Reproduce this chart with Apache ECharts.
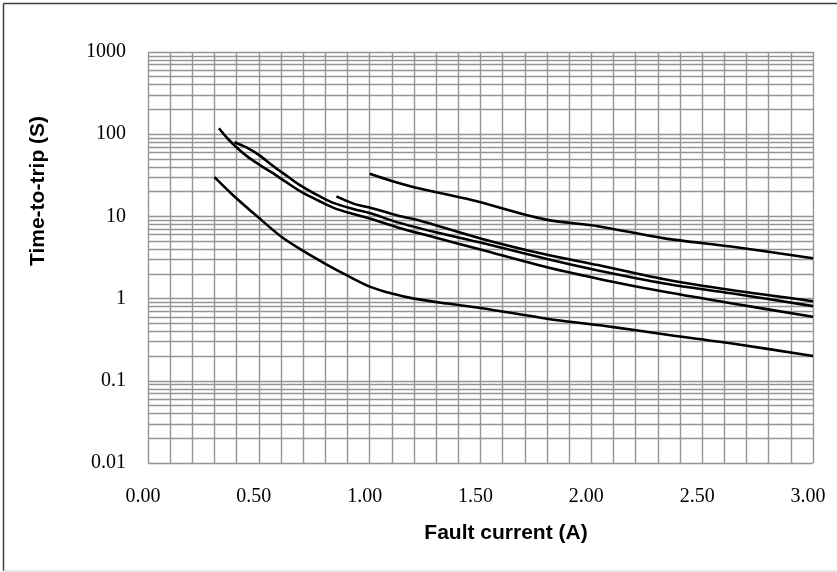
<!DOCTYPE html>
<html>
<head>
<meta charset="utf-8">
<script src="https://cdn.jsdelivr.net/npm/echarts@6/dist/echarts.min.js"></script>
<style>
html,body{margin:0;padding:0;background:#fff;}
#chart{width:837px;height:572px;}
</style>
</head>
<body>
<div id="chart"></div>
<script>
// ---- data ----
const xA = [0.30, 0.38, 0.50, 0.60, 0.70, 0.80, 0.90, 1.00, 1.10, 1.20, 1.35, 1.50, 1.80, 2.10, 2.35, 2.65, 3.00];
const yA = [30, 18.5, 9.6, 5.7, 3.8, 2.65, 1.9, 1.4, 1.15, 1.0, 0.87, 0.77, 0.57, 0.45, 0.36, 0.28, 0.2];

const xB = [0.32, 0.36, 0.41, 0.45, 0.50, 0.56, 0.62, 0.69, 0.77, 0.84, 0.93, 1.00, 1.13, 1.30, 1.50, 1.80, 2.05, 2.33, 2.63, 3.00];
const yB = [118, 88, 65, 53, 43, 34, 26.5, 20, 15.5, 12.6, 10.6, 9.4, 7.3, 5.5, 3.95, 2.4, 1.7, 1.21, 0.88, 0.6];

const xC = [0.39, 0.44, 0.50, 0.56, 0.62, 0.68, 0.75, 0.83, 0.93, 1.00, 1.13, 1.30, 1.50, 1.80, 2.03, 2.33, 2.63, 3.00];
const yC = [80, 70, 56, 42, 32, 24.5, 19, 14.8, 12.2, 11.0, 8.4, 6.4, 4.8, 3.03, 2.2, 1.53, 1.16, 0.81];

const xD = [0.85, 0.93, 1.00, 1.13, 1.22, 1.50, 1.79, 2.03, 2.33, 2.63, 3.00];
const yD = [17.5, 14.2, 12.8, 10.2, 9.0, 5.4, 3.46, 2.56, 1.72, 1.27, 0.93];

const xE = [1.00, 1.10, 1.22, 1.46, 1.79, 2.03, 2.33, 2.63, 3.00];
const yE = [33, 27, 22, 15.8, 9.2, 7.6, 5.4, 4.3, 3.1];

const yDecades = [0.01, 0.1, 1, 10, 100, 1000];
const xLabelStep = 0.5;
const xTitle = 'Fault current (A)';
const yTitle = 'Time-to-trip (S)';

// ---- build ----
function pairs(xs, ys){ return xs.map((x,i)=>[x, ys[i]]); }
const minorY = [];
for (let d = 0; d < yDecades.length - 1; d++) {
  for (let k = 2; k <= 9; k++) minorY.push(Number((yDecades[d] * k).toPrecision(6)));
}

const chart = echarts.init(document.getElementById('chart'), null, {renderer:'canvas'});
const gridColor = '#959595';
const gridWidth = 1.4;
const curveStyle = {color:'#000', width:2.6};
function curve(name, xs, ys){
  return {
    name, type:'line', data:pairs(xs, ys), showSymbol:false, symbol:'none',
    smooth:0.3, lineStyle:curveStyle, z:5, animation:false, silent:true
  };
}

chart.setOption({
  animation:false,
  backgroundColor:'#fff',
  grid:{left:148, right:24, top:52, bottom:109, containLabel:false},
  xAxis:{
    type:'value', min:0, max:3, interval:0.1,
    axisLine:{show:false}, axisTick:{show:false},
    splitLine:{show:true, lineStyle:{color:gridColor, width:gridWidth}},
    axisLabel:{
      margin:24, fontFamily:'Liberation Serif', fontSize:20, color:'#000',
      padding:[0,10,0,0],
      formatter:function(v){
        const r = v / xLabelStep;
        return Math.abs(r - Math.round(r)) < 1e-6 ? v.toFixed(2) : '';
      }
    }
  },
  yAxis:{
    type:'log', logBase:10, min:yDecades[0], max:yDecades[yDecades.length-1],
    axisLine:{show:false}, axisTick:{show:false},
    splitLine:{show:true, lineStyle:{color:gridColor, width:gridWidth}},
    axisLabel:{
      margin:22, fontFamily:'Liberation Serif', fontSize:20, color:'#000',
      formatter:function(v){ return String(Number(v.toPrecision(6))); }
    }
  },
  graphic:[
    {type:'line', shape:{x1:3.5, y1:3.5, x2:837, y2:3.5}, style:{stroke:'#404040', lineWidth:1.5}, z:100},
    {type:'line', shape:{x1:3.5, y1:3.5, x2:3.5, y2:571}, style:{stroke:'#404040', lineWidth:1.5}, z:100},
    {type:'line', shape:{x1:3.5, y1:571, x2:837, y2:571}, style:{stroke:'#cfcfcf', lineWidth:1}, z:100},
    {type:'text', x:506, y:533, style:{text:xTitle, font:'bold 21px "Liberation Sans", Arial, sans-serif', fill:'#000', textAlign:'center', textVerticalAlign:'middle'}},
    {type:'text', x:38, y:191, rotation:Math.PI/2, style:{text:yTitle, font:'bold 21px "Liberation Sans", Arial, sans-serif', fill:'#000', textAlign:'center', textVerticalAlign:'middle'}}
  ],
  series:[
    {
      type:'line', data:[], z:1, silent:true, animation:false,
      markLine:{
        silent:true, animation:false, symbol:['none','none'],
        label:{show:false},
        lineStyle:{color:gridColor, width:gridWidth, type:'solid'},
        emphasis:{disabled:true},
        data:minorY.map(v=>({yAxis:v}))
      }
    },
    curve('A', xA, yA),
    curve('B', xB, yB),
    curve('C', xC, yC),
    curve('D', xD, yD),
    curve('E', xE, yE)
  ]
});
</script>
</body>
</html>
